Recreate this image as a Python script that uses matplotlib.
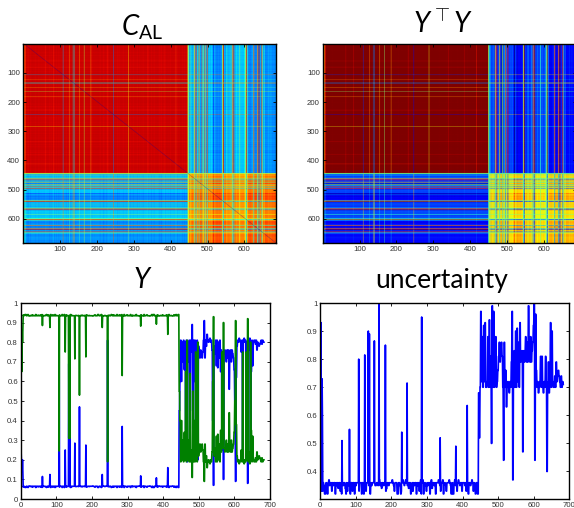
import numpy as np
import matplotlib
matplotlib.use("Agg")
import matplotlib.pyplot as plt

plt.rcParams['mathtext.fontset'] = 'custom'
plt.rcParams['mathtext.rm'] = 'Lato'
plt.rcParams['mathtext.it'] = 'Lato:italic'
plt.rcParams['font.family'] = ['Liberation Sans', 'DejaVu Sans']

N_A = 445
N = 684
BASE_BLUE_A = 0.065

start_x = [0, 1, 2, 3, 4, 5, 6]
start_blue = [0.35, 0.25, 0.20, 0.14, 0.14, 0.20, 0.14]
start_green = [0.20, 0.65, 0.85, 0.65, 0.86, 0.80, 0.86]
start_unc = [0.36, 0.36, 0.93, 0.33, 0.59, 0.73, 0.59]

spike_x = [61, 82, 108, 125, 135, 138, 152, 165, 183, 229, 244, 285, 337, 381, 413]
spike_blue = [.115, .125, .755, .25, .69, .69, .285, .47, .275, .125, .81, .37, .118, .108, .16]
spike_green = [.885, .875, .245, .75, .31, .31, .715, .53, .725, .875, .19, .63, .882, .892, .84]
spike_unc = [.51, .55, .80, .815, .90, .89, .865, 1.0, .85, .54, .715, .95, .52, .49, .635]

# class-1 / class-2 / uncertainty after sample 445, read every second sample
blue_b = [45,60,81,60,80,70,81,66,80,35,81,19,80,70,81,36,81,75,89,45,
          81,60,81,25,70,81,20,78,75,72,76,74,72,75,81,91,72,81,78,84,
          81,80,81,82,80,81,76,40,7,78,74,81,68,81,67,80,72,81,65,76,
          25,74,10,74,76,74,70,76,72,76,56,74,76,70,76,74,72,66,50,9,
          62,78,81,80,82,81,80,75,81,25,81,82,80,81,25,80,8,81,76,82,
          20,65,81,68,80,81,81,79,81,76,80,79,78,79,80,81,79,81,80,80]
green_b = [55,40,19,40,20,30,19,34,20,65,19,81,20,30,19,64,19,25,11,55,
           19,40,19,75,30,19,80,22,25,28,24,26,28,25,19,9,28,19,22,16,
           19,20,19,18,20,19,24,60,93,22,26,19,32,19,33,20,28,19,35,24,
           75,26,90,26,24,26,30,24,28,24,44,26,24,30,24,26,28,34,50,91,
           38,22,19,20,18,19,20,25,19,75,19,18,20,19,75,20,92,19,24,18,
           80,35,19,32,20,19,19,21,19,24,20,21,22,21,20,19,21,19,20,20]
unc_b = [68,52,70,97,72,88,70,92,72,93,70,70,72,88,70,94,70,81,50,99,
         70,97,70,81,88,70,72,76,81,86,79,83,86,81,70,44,86,70,76,63,
         70,72,70,68,72,70,79,97,37,76,83,70,90,70,91,72,86,70,93,79,
         81,83,47,83,79,83,88,79,86,79,99,83,79,88,79,83,86,92,100,44,
         96,76,70,72,68,70,72,81,70,81,70,68,72,70,81,72,40,70,79,68,
         72,93,70,90,72,70,70,74,70,79,72,74,76,74,72,70,74,70,72,71]
# low-level uncertainty before sample 445, read every second sample
unc_a = [36,36,36,33,36,35,32,32,36,35,32,36,37,35,36,36,33,36,35,36,
         36,32,36,35,36,34,36,36,33,36,32,36,35,36,36,34,32,36,33,36,
         35,36,32,36,36,33,36,36,32,36,35,36,36,36,33,36,36,36,32,36,
         36,32,35,36,33,36,36,36,35,36,32,36,35,36,36,36,36,35,35,36,
         36,35,36,37,35,36,34,36,36,35,36,36,33,34,36,36,35,36,36,36,
         36,37,36,35,33,36,36,36,32,32,36,36,35,32,33,36,37,36,35,36,
         37,36,35,36,34,36,36,32,33,36,33,36,35,36,36,32,36,35,36,33,
         36,37,32,36,37,32,36,36,35,33,36,35,36,36,32,36,37,34,36,36,
         35,36,32,36,36,36,37,36,35,33,36,36,37,32,36,36,35,33,36,36,
         36,37,36,35,32,36,32,32,36,37,35,36,33,36,37,36,35,36,36,33,
         36,36,36,35,36,33,36,36,32,36,36,35,36,37,36,33,36,35,32,36,
         36,32,32]

HEAT_TICKS = [100, 200, 300, 400, 500, 600]
LINE_TICKS = [0, 100, 200, 300, 400, 500, 600, 700]
Y_TICKS = [0, .1, .2, .3, .4, .5, .6, .7, .8, .9, 1]
Y_TICKLABELS = ['0', '0.1', '0.2', '0.3', '0.4', '0.5', '0.6', '0.7', '0.8', '0.9', '1']
U_TICKS = [.4, .5, .6, .7, .8, .9, 1]
U_TICKLABELS = ['0.4', '0.5', '0.6', '0.7', '0.8', '0.9', '1']

# per-sample series
unc = np.zeros(N)
unc[:N_A] = np.repeat(np.array(unc_a) / 100, 2)[:N_A]
blue = np.zeros(N)
blue[:N_A] = BASE_BLUE_A + (unc[:N_A] - 0.36) * 0.15
green = 1 - blue
blue[N_A:] = np.repeat(np.array(blue_b) / 100, 2)[:N - N_A]
green[N_A:] = np.repeat(np.array(green_b) / 100, 2)[:N - N_A]
unc[N_A:] = np.repeat(np.array(unc_b) / 100, 2)[:N - N_A]
blue[start_x] = start_blue
green[start_x] = start_green
unc[start_x] = start_unc
blue[spike_x] = spike_blue
green[spike_x] = spike_green
unc[spike_x] = spike_unc

# similarity matrices
YtY = np.outer(blue, blue) + np.outer(green, green)
s = np.clip((blue - BASE_BLUE_A) / (0.81 - BASE_BLUE_A) * 0.87 + 0.03, 0, 1)
C = np.outer(s, s) + np.outer(1 - s, 1 - s)
t = np.where(np.arange(N) < N_A, np.clip(0.365 - unc, 0, 0.06), 0.0)
C = C - (t[:, None] + t[None, :]) * 0.5
np.fill_diagonal(C, -0.15)

W, H = 574, 508
fig = plt.figure(figsize=(W / 100, H / 100), dpi=100)


def add_ax(l, t_, r, b):
    return fig.add_axes([l / W, 1 - b / H, (r - l) / W, (b - t_) / H])


def style(ax):
    ax.tick_params(direction='in', length=2.5, width=0.6, labelsize=5.6,
                   labelcolor='#333333', pad=2, top=True, right=True)
    for sp in ax.spines.values():
        sp.set_linewidth(1.0)


ext = (0.5, N + 0.5, N + 0.5, 0.5)
a1 = add_ax(23, 44, 275.7, 243.3)
a1.imshow(C, cmap='jet', vmin=-0.188, vmax=1.012, aspect='auto', extent=ext,
          interpolation='antialiased')
a2 = add_ax(322.7, 44, 575.7, 243.3)
a2.imshow(YtY, cmap='jet', vmin=0.15, vmax=0.88, aspect='auto', extent=ext,
          interpolation='antialiased')
for ax in (a1, a2):
    ax.set_xticks(HEAT_TICKS)
    ax.set_yticks(HEAT_TICKS)
    style(ax)

x = np.arange(N)
a3 = add_ax(20.7, 303, 270, 499)
a3.plot(x, blue, color=(0, 0, 1), lw=1.2)
a3.plot(x, green, color=(0, 0.5, 0), lw=1.2)
a3.set_xlim(0, 700)
a3.set_ylim(0, 1)
a3.set_xticks(LINE_TICKS)
a3.set_yticks(Y_TICKS)
a3.set_yticklabels(Y_TICKLABELS)
style(a3)

a4 = add_ax(320.3, 303, 569.3, 499)
a4.plot(x, unc, color=(0, 0, 1), lw=1.2)
a4.set_xlim(0, 700)
a4.set_ylim(0.302, 1)
a4.set_xticks(LINE_TICKS)
a4.set_yticks(U_TICKS)
a4.set_yticklabels(U_TICKLABELS)
style(a4)

tkw = dict(ha='center', va='baseline', fontsize=20, color='black')
fig.text(142 / W, 1 - 35 / H, r'$C_{\mathrm{AL}}$', **tkw)
fig.text(443 / W, 1 - 33 / H, r'$Y^{\top}Y$', **tkw)
fig.text(143 / W, 1 - 288 / H, r'$Y$', **tkw)
fig.text(442 / W, 1 - 288 / H, 'uncertainty', ha='center', va='baseline',
         fontsize=19, color='black', family='Lato')

fig.savefig('out.png', dpi=100)
